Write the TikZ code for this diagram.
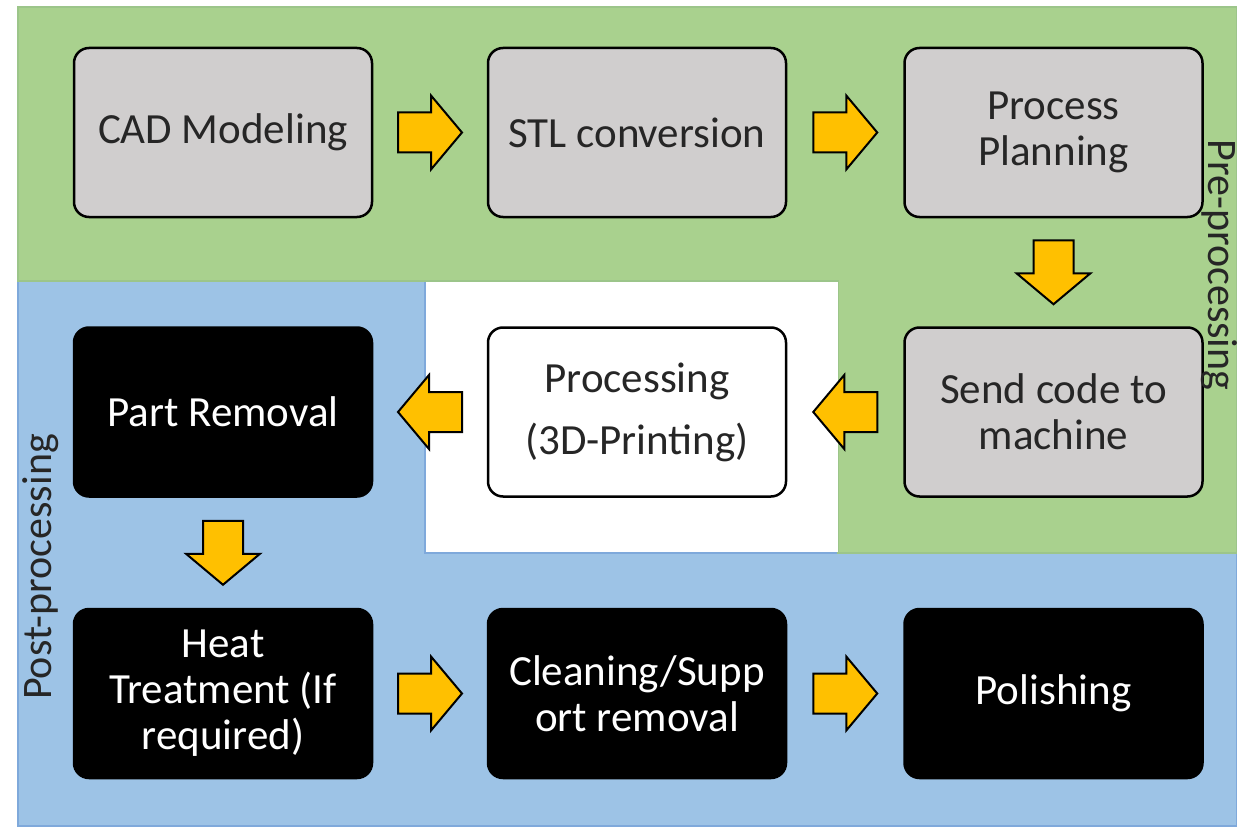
\documentclass[tikz,border=0pt]{standalone}
\usepackage{fontspec}
\setmainfont{Carlito}
\usetikzlibrary{calc}

\definecolor{preGreen}{HTML}{A9D18E}
\definecolor{preEdge}{HTML}{9CC58A}
\definecolor{postBlue}{HTML}{9DC3E6}
\definecolor{postEdge}{HTML}{7FA9DB}
\definecolor{boxGray}{HTML}{D0CECE}
\definecolor{flowYellow}{HTML}{FFC000}
\definecolor{inkGray}{HTML}{262626}

\tikzset{
  stepbox/.style={draw=black, line width=1.25pt, rounded corners=7.5pt,
    minimum width=149pt, minimum height=84.5pt, align=center,
    font=\fontsize{21.5}{23}\selectfont, inner sep=2pt},
  stepgray/.style={stepbox, fill=boxGray, text=inkGray},
  stepwhite/.style={stepbox, fill=white, text=inkGray},
  stepdark/.style={stepbox, fill=black, text=white},
  flowarrow/.style={draw=black, fill=flowYellow, line width=1pt, line join=miter},
  phaselabel/.style={font=\fontsize{21}{23}\selectfont, text=inkGray, inner sep=0pt}
}

% block arrow pointing along local +x, centred on the origin
\newcommand\arrowshape{(-32,-20) -- (1,-20) -- (1,-37) -- (32,0) -- (1,37) -- (1,20) -- (-32,20) -- cycle}

\begin{document}
\begin{tikzpicture}[x=0.5pt, y=-0.5pt]
\useasboundingbox (0,0) rectangle (1237,829);
\fill[white] (0,0) rectangle (1237,829);

% phase backgrounds
\filldraw[fill=postBlue, draw=postEdge, line width=0.6pt]
  (18,281) -- (425,281) -- (425,553) -- (1237,553) -- (1237,826) -- (18,826) -- cycle;
\filldraw[fill=preGreen, draw=preEdge, line width=0.6pt]
  (18,7) -- (1237,7) -- (1237,553) -- (838,553) -- (838,281) -- (18,281) -- cycle;
\fill[white] (425.6,281.6) rectangle (837.6,552.4);

% process steps
\node[stepgray]  (cad)   at (223,132.5)  {CAD Modeling};
\node[stepgray]  (stl)   at (637,132.5)  {STL conversion};
\node[stepgray]  (plan)  at (1053.5,132.5) {Process\\Planning};
\node[stepgray]  (send)  at (1053.5,412) {Send code to\\machine};
\node[stepwhite] (print) at (637,412)    {Processing\\[8pt](3D-Printing)};
\node[stepdark]  (remove) at (223,412)   {Part Removal};
\node[stepdark]  (heat)  at (223,693.5)  {Heat\\Treatment (If\\required)};
\node[stepdark]  (clean) at (637,693.5)  {Cleaning/Supp\\ort removal};
\node[stepdark]  (polish) at (1053.5,693.5) {Polishing};

% flow arrows between the steps
\draw[flowarrow, shift={($(cad.east)!0.5!(stl.west)$)}] \arrowshape;
\draw[flowarrow, shift={($(stl.east)!0.5!(plan.west)$)}] \arrowshape;
\draw[flowarrow, shift={($(plan.south)!0.5!(send.north)$)}, rotate=-90] \arrowshape;
\draw[flowarrow, shift={($(send.west)!0.5!(print.east)$)}, rotate=180] \arrowshape;
\draw[flowarrow, shift={($(print.west)!0.5!(remove.east)$)}, rotate=180] \arrowshape;
\draw[flowarrow, shift={($(remove.south)!0.5!(heat.north)$)}, rotate=-90] \arrowshape;
\draw[flowarrow, shift={($(heat.east)!0.5!(clean.west)$)}] \arrowshape;
\draw[flowarrow, shift={($(clean.east)!0.5!(polish.west)$)}] \arrowshape;

% phase labels
\node[phaselabel, rotate=-90] (pre)  at (1219,265) {Pre-processing};
\node[phaselabel, rotate=90]  (post) at (41,567)   {Post-processing};
\end{tikzpicture}
\end{document}
